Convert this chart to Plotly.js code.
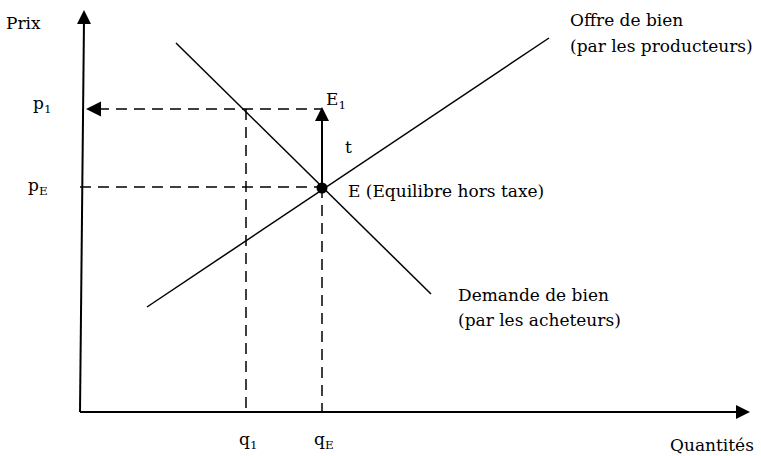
<!DOCTYPE html>
<html><head><meta charset="utf-8">
<script src="https://cdn.plot.ly/plotly-3.0.1.min.js"></script>
<style>html,body{margin:0;padding:0;background:#fff}#c{width:761px;height:456px}</style>
</head><body><div id="c"></div>
<script>
// Coordinates: quantity (x) and price (y), origin at the axes' corner
const supplyQ = [67, 469];
const supplyP = [105, 374];
const demandQ = [96, 351];
const demandP = [369, 118];
const eqQ = [242];
const eqP = [224];
const q1 = 166;
const p1 = 303;
const qE = 242;
const pE = 225;
const axisYQ = [0, 4];
const axisYP = [0, 392];
const axisXQ = [0, 660];
const axisXP = [0, 0];
const tipYAxis = [4, 402];
const tipXAxis = [670, 0];
const tipP1 = [6, 303];
const tipTax = [242, 305];

const F = "DejaVu Serif";
const black = "#000";
const solid = {color: black, width: 1.5};
const dashed = {color: black, width: 1.5, dash: "11px,7px"};

const traces = [
  {x: axisYQ, y: axisYP, mode: "lines", line: {color: black, width: 2}},
  {x: axisXQ, y: axisXP, mode: "lines", line: {color: black, width: 2}},
  {x: supplyQ, y: supplyP, mode: "lines", line: solid},
  {x: demandQ, y: demandP, mode: "lines", line: solid},
  {x: [tipP1[0] + 12, q1, qE], y: [p1, p1, p1], mode: "lines", line: dashed},
  {x: [0, qE], y: [pE, pE], mode: "lines", line: dashed},
  {x: [q1, q1], y: [p1, 0], mode: "lines", line: dashed},
  {x: [qE, qE], y: [pE, 0], mode: "lines", line: dashed},
  {x: [qE, qE], y: [pE, tipTax[1] - 10], mode: "lines", line: {color: black, width: 2}},
  {x: [tipYAxis[0]], y: [tipYAxis[1]], mode: "markers", marker: {symbol: "arrow-up", size: 14, color: black, line: {width: 0}}},
  {x: [tipXAxis[0]], y: [tipXAxis[1]], mode: "markers", marker: {symbol: "arrow-right", size: 14, color: black, line: {width: 0}}},
  {x: [tipP1[0]], y: [tipP1[1]], mode: "markers", marker: {symbol: "arrow-left", size: 15, color: black, line: {width: 0}}},
  {x: [tipTax[0]], y: [tipTax[1]], mode: "markers", marker: {symbol: "arrow-up", size: 14, color: black, line: {width: 0}}},
  {x: eqQ, y: eqP, mode: "markers", marker: {symbol: "circle", size: 11, color: black}}
];

function lab(text, x, y) {
  return {text: text, x: x, y: y, xref: "x", yref: "y", showarrow: false,
          xanchor: "left", yanchor: "middle", align: "left",
          font: {family: F, size: 17, color: black}};
}

const annotations = [
  lab("Prix", -76, 389),
  lab("p<sub>1</sub>", -49, 308),
  lab("p<sub>E</sub>", -54, 226),
  lab("E<sub>1</sub>", 244, 312),
  lab("t", 263, 265),
  lab("E (Equilibre hors taxe)", 266, 221),
  lab("Offre de bien", 488, 392),
  lab("(par les producteurs)", 488, 366),
  lab("Demande de bien", 376, 117),
  lab("(par les acheteurs)", 376, 92),
  lab("q<sub>1</sub>", 157, -28),
  lab("q<sub>E</sub>", 232, -28),
  lab("Quantités", 588, -33)
];

const layout = {
  width: 761, height: 456,
  margin: {l: 0, r: 0, t: 0, b: 0},
  paper_bgcolor: "#fff", plot_bgcolor: "#fff",
  showlegend: false,
  xaxis: {range: [-80, 681], visible: false, fixedrange: true},
  yaxis: {range: [-44, 412], visible: false, fixedrange: true},
  annotations: annotations
};

Plotly.newPlot("c", traces.map(t => Object.assign({hoverinfo: "skip"}, t)), layout, {staticPlot: true});
</script>
</body></html>
